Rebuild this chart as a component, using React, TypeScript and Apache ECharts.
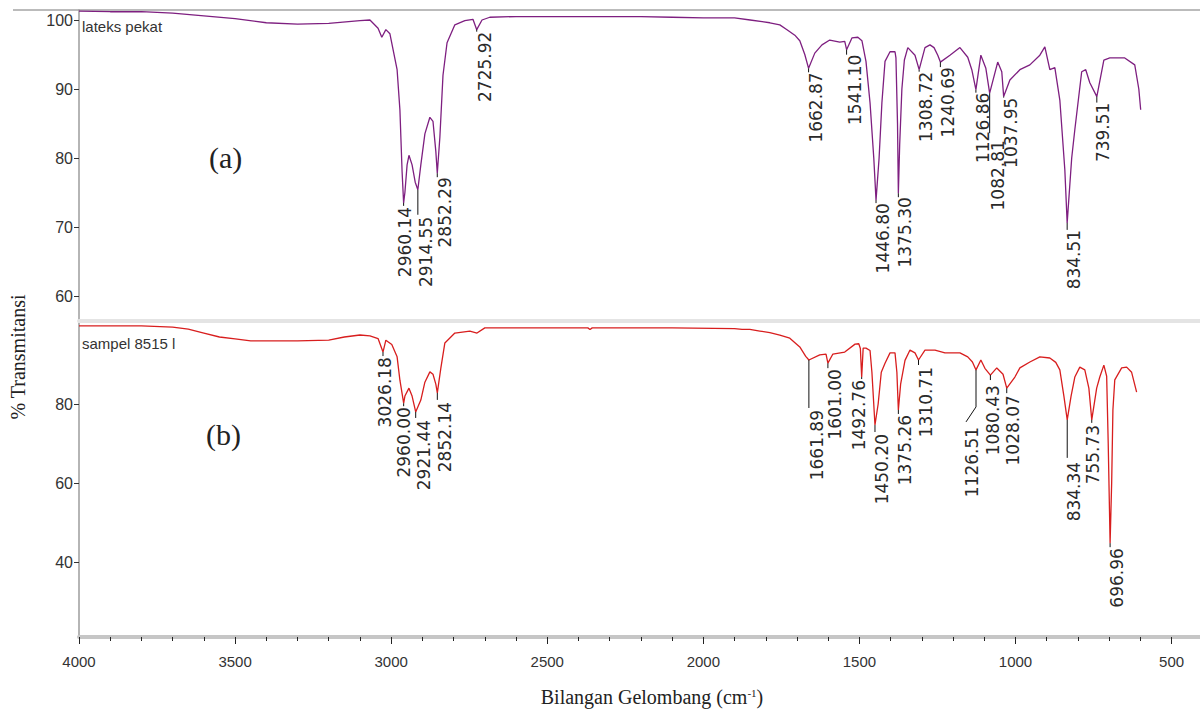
import React, { useEffect, useRef } from "react";
import * as echarts from "echarts";

// ---- Spectrum (a): lateks pekat ----
const latexWavenumber = [
  4000, 3900, 3800, 3700, 3600, 3500, 3400, 3300, 3200, 3100, 3068, 3042, 3030, 3017, 3004,
  2981, 2972, 2965, 2960.14, 2956, 2949, 2943, 2933, 2923, 2914.55, 2905, 2892, 2876, 2866,
  2857, 2852.29, 2844, 2834, 2821, 2796, 2764, 2738, 2725.92, 2709, 2684, 2600, 2400, 2200,
  2100, 2000, 1900, 1850, 1787, 1755, 1732, 1707, 1691, 1675, 1662.87, 1643, 1620, 1595, 1563,
  1547, 1541.1, 1524, 1505, 1492, 1479, 1466, 1454, 1446.8, 1437, 1428, 1418, 1402, 1386, 1383,
  1378, 1375.3, 1371, 1364, 1356, 1345, 1322, 1308.72, 1290, 1274, 1261, 1249, 1240.69, 1210,
  1178, 1153, 1140, 1126.86, 1111, 1095, 1082.81, 1057, 1044, 1037.95, 1018, 986, 954, 922, 906,
  890, 874, 858, 842, 834.51, 820, 810, 788, 775, 762, 739.51, 717, 698, 650, 618, 605, 599,
];
const latexTransmittance = [
  101.3, 101.2, 101.2, 101.0, 100.6, 100.2, 99.6, 99.4, 99.5, 99.9, 100.0, 98.8, 97.5, 98.6, 98.0,
  92.8, 87.0, 78.0, 73.5, 75.0, 79.0, 80.4, 79.0, 76.5, 75.4, 79.0, 83.5, 85.9, 85.3,
  81.0, 77.8, 83.0, 92.0, 96.7, 99.3, 99.9, 100.1, 98.6, 100.0, 100.4, 100.5, 100.5, 100.5,
  100.4, 100.3, 100.3, 100.0, 99.6, 99.3, 98.6, 97.8, 97.0, 95.0, 93.0, 95.2, 96.4, 97.1, 96.8,
  96.9, 95.7, 97.4, 97.5, 97.0, 94.0, 88.0, 80.0, 73.9, 80.0, 88.0, 94.0, 95.4, 95.4, 94.5,
  85.0, 74.9, 82.0, 90.0, 94.2, 96.0, 94.9, 92.8, 96.0, 96.4, 96.0, 94.9, 93.9, 94.9,
  96.0, 94.6, 92.8, 89.9, 94.9, 93.0, 89.4, 93.9, 92.5, 88.9, 91.3, 92.8, 93.5, 94.9, 96.1,
  92.8, 93.1, 88.4, 78.3, 70.6, 80.0, 84.1, 92.5, 92.8, 90.9, 88.9, 94.2, 94.5, 94.5, 93.5, 90.0, 87.0,
];

// ---- Spectrum (b): sampel 8515 l ----
const sampleWavenumber = [
  4000, 3800, 3700, 3650, 3600, 3550, 3500, 3450, 3300, 3200, 3150, 3100, 3068, 3042, 3026.18,
  3017, 2998, 2981, 2972, 2960.0, 2956, 2943, 2933, 2921.44, 2905, 2892, 2876, 2866, 2857,
  2852.14, 2841, 2828, 2796, 2748, 2725, 2700, 2500, 2370, 2363, 2356, 2100, 1900, 1876, 1851,
  1819, 1787, 1755, 1723, 1691, 1672, 1661.89, 1627, 1607, 1601.0, 1585, 1547, 1514, 1502, 1497,
  1492.76, 1488, 1479, 1466, 1460, 1450.2, 1440, 1430, 1418, 1402, 1386, 1380, 1375.26, 1368,
  1354, 1338, 1322, 1310.71, 1290, 1258, 1226, 1178, 1153, 1138, 1126.51, 1111, 1098, 1080.43,
  1060, 1040, 1028.07, 1002, 986, 954, 922, 890, 871, 858, 845, 834.34, 822, 810, 794, 778, 765,
  755.73, 740, 730, 717, 708, 703, 696.96, 692, 688, 682, 660, 644, 628, 612,
];
const sampleTransmittance = [
  99.7, 99.7, 99.4, 98.9, 97.9, 96.9, 96.4, 95.9, 95.9, 96.1, 96.9, 97.4, 97.2, 96.5, 93.1,
  96.1, 95.0, 91.9, 86.0, 80.2, 82.0, 84.0, 82.0, 78.0, 81.0, 85.5, 88.1, 87.5, 85.0,
  82.8, 89.0, 95.4, 97.9, 98.4, 97.9, 99.2, 99.2, 99.2, 98.8, 99.2, 99.2, 99.0, 98.8, 98.8,
  98.4, 98.0, 97.4, 96.6, 94.4, 92.0, 91.1, 92.4, 92.6, 90.3, 92.6, 93.1, 95.1, 95.2, 94.0,
  86.8, 94.1, 94.1, 93.5, 88.0, 74.7, 80.0, 88.0, 90.3, 92.9, 92.9, 88.0, 78.5, 85.0,
  91.0, 93.6, 92.9, 91.1, 93.6, 93.6, 92.9, 92.9, 91.9, 90.6, 88.6, 91.1, 89.0, 87.3,
  89.1, 87.5, 84.0, 86.8, 89.1, 90.6, 91.9, 91.6, 90.5, 88.6, 82.0, 76.0, 82.0, 86.8, 89.3, 88.6, 84.0,
  76.0, 84.0, 86.8, 89.8, 87.0, 70.0, 44.9, 60.0, 78.5, 86.1, 89.1, 89.3, 88.0, 83.0,
];

// ---- Peak annotations ----
const latexPeakWavenumber = [2960.14, 2914.55, 2852.29, 2725.92, 1662.87, 1541.1, 1446.8, 1375.3, 1308.72, 1240.69, 1126.86, 1082.81, 1037.95, 834.51, 739.51];
const latexPeakTransmittance = [73.5, 75.4, 77.8, 98.6, 93.0, 95.7, 73.9, 74.9, 92.8, 93.9, 89.9, 89.4, 88.9, 70.6, 88.9];
const samplePeakWavenumber = [3026.18, 2960.0, 2921.44, 2852.14, 1661.89, 1601.0, 1492.76, 1450.2, 1375.26, 1310.71, 1126.51, 1080.43, 1028.07, 834.34, 755.73, 696.96];
const samplePeakTransmittance = [93.1, 80.2, 78.0, 82.8, 91.1, 90.3, 86.8, 74.7, 78.5, 91.1, 88.6, 87.3, 84.0, 76.0, 76.0, 44.9];

// label layout (pixels): [leader length, label top offset, label dx, leader bend dx, leader bend dy]
const latexPeakLayout = [
  [3, 4, 1], [25, 27, 8], [4, 4, 8], [2, 2, 8], [4, 4, 7], [5, 5, 8], [3, 3, 7], [4, 4, 7],
  [2, 2, 7], [5, 5, 8], [3, 3, 7], [40, 47, 8], [1, 1, 7], [7, 7, 7], [6, 6, 6],
];
const samplePeakLayout = [
  [4, 5, 2], [3, 4, 0], [6, 8, 8], [7, 9, 8], [48, 50, 8], [5, 6, 7], [2, 3, -3], [7, 9, 7],
  [4, 5, 7], [5, 7, 7], [37, 57, -4, -10, 52], [5, 10, 3], [5, 7, 6], [38, 42, 7], [3, 5, 1], [4, 5, 7],
];

// ---- Axis ticks ----
const xMajorTicks = [4000, 3500, 3000, 2500, 2000, 1500, 1000, 500];
const xMinorTicks = [
  3900, 3800, 3700, 3600, 3400, 3300, 3200, 3100, 2900, 2800, 2700, 2600, 2400, 2300, 2200, 2100,
  1900, 1800, 1700, 1600, 1400, 1300, 1200, 1100, 900, 800, 700, 600,
];
const topMajorTicks = [60, 70, 80, 90, 100];
const topMinorTicks = [57.5, 62.5, 65, 67.5, 72.5, 75, 77.5, 82.5, 85, 87.5, 92.5, 95, 97.5];
const bottomMajorTicks = [40, 60, 80];
const bottomMinorTicks = [25, 30, 35, 45, 50, 55, 65, 70, 75, 85, 90, 95, 100];

const NARROW = '"Liberation Sans Narrow", "Arial Narrow", "Liberation Sans", sans-serif';
const SERIF = '"Liberation Serif", "Times New Roman", serif';
const PEAKFONT = '17px "DejaVu Sans", sans-serif';

function peakSeries(wn: number[], t: number[], layout: number[][], xi: number, yi: number) {
  return {
    type: "custom",
    xAxisIndex: xi,
    yAxisIndex: yi,
    silent: true,
    clip: false,
    z: 5,
    data: wn.map((w, i) => [w, t[i], i]),
    renderItem: (params: any, api: any) => {
      const i = api.value(2);
      const p = api.coord([api.value(0), api.value(1)]);
      const lay = layout[i];
      const pts: number[][] = [[p[0], p[1]], [p[0], p[1] + lay[0]]];
      if (lay.length > 3) pts.push([p[0] + lay[3], p[1] + lay[4]]);
      return {
        type: "group",
        children: [
          {
            type: "polyline",
            shape: { points: pts },
            style: { stroke: "#111", lineWidth: 1, fill: null },
          },
          {
            type: "text",
            x: p[0] + lay[2],
            y: p[1] + lay[1],
            rotation: Math.PI / 2,
            style: {
              text: wn[i].toFixed(2),
              align: "right",
              verticalAlign: "middle",
              font: PEAKFONT,
              fill: "#2a2a2a",
            },
          },
        ],
      };
    },
  };
}

export default function App() {
  const ref = useRef<HTMLDivElement>(null);
  useEffect(() => {
    if (!ref.current) return;
    const chart = echarts.init(ref.current, null, { renderer: "svg" });
    const xBase = { type: "value", min: 409, max: 4000, inverse: true, splitLine: { show: false } };
    const plain = (v: number) => String(v);
    const option: any = {
      animation: false,
      backgroundColor: "#ffffff",
      grid: [
        { left: 79, right: 0, top: 10, height: 311 },
        { left: 79, right: 0, top: 323, height: 314 },
      ],
      xAxis: [
        {
          ...xBase,
          gridIndex: 0,
          position: "bottom",
          axisLine: { show: true, onZero: false, lineStyle: { color: "#e4e4e4", width: 4 } },
          axisTick: { show: false },
          axisLabel: { show: false },
        },
        {
          ...xBase,
          gridIndex: 1,
          position: "bottom",
          axisLine: { show: true, onZero: false, lineStyle: { color: "#c6c6c6", width: 4 } },
          axisTick: { show: true, customValues: xMajorTicks, length: 7, lineStyle: { color: "#222", width: 1 } },
          axisLabel: { show: true, customValues: xMajorTicks, formatter: plain, margin: 17, color: "#333", fontFamily: NARROW, fontSize: 15 },
        },
        {
          ...xBase,
          gridIndex: 1,
          position: "bottom",
          axisLine: { show: false, onZero: false },
          axisTick: { show: true, customValues: xMinorTicks, length: 4, lineStyle: { color: "#222", width: 1 } },
          axisLabel: { show: false },
        },
      ],
      yAxis: [
        {
          type: "value",
          gridIndex: 0,
          min: 56.38,
          max: 101.45,
          splitLine: { show: false },
          axisLine: { show: true, onZero: false, lineStyle: { color: "#9c9c9c", width: 1.5 } },
          axisTick: { show: true, customValues: topMajorTicks, length: 5, lineStyle: { color: "#333" } },
          axisLabel: { show: true, customValues: topMajorTicks, formatter: plain, margin: 6, color: "#333", fontFamily: NARROW, fontSize: 16 },
        },
        {
          type: "value",
          gridIndex: 0,
          min: 56.38,
          max: 101.45,
          splitLine: { show: false },
          axisLine: { show: false, onZero: false },
          axisTick: { show: true, customValues: topMinorTicks, length: 2, lineStyle: { color: "#333" } },
          axisLabel: { show: false },
        },
        {
          type: "value",
          gridIndex: 1,
          min: 21.24,
          max: 100.43,
          splitLine: { show: false },
          axisLine: { show: true, onZero: false, lineStyle: { color: "#9c9c9c", width: 1.5 } },
          axisTick: { show: true, customValues: bottomMajorTicks, length: 5, lineStyle: { color: "#333" } },
          axisLabel: { show: true, customValues: bottomMajorTicks, formatter: plain, margin: 6, color: "#333", fontFamily: NARROW, fontSize: 16 },
        },
        {
          type: "value",
          gridIndex: 1,
          min: 21.24,
          max: 100.43,
          splitLine: { show: false },
          axisLine: { show: false, onZero: false },
          axisTick: { show: true, customValues: bottomMinorTicks, length: 2, lineStyle: { color: "#333" } },
          axisLabel: { show: false },
        },
      ],
      series: [
        {
          type: "line",
          xAxisIndex: 0,
          yAxisIndex: 0,
          showSymbol: false,
          silent: true,
          clip: false,
          lineStyle: { color: "#7e1f80", width: 1.3 },
          data: latexWavenumber.map((w, i) => [w, latexTransmittance[i]]),
        },
        {
          type: "line",
          xAxisIndex: 1,
          yAxisIndex: 2,
          showSymbol: false,
          silent: true,
          clip: false,
          lineStyle: { color: "#d81e1e", width: 1.3 },
          data: sampleWavenumber.map((w, i) => [w, sampleTransmittance[i]]),
        },
        peakSeries(latexPeakWavenumber, latexPeakTransmittance, latexPeakLayout, 0, 0),
        peakSeries(samplePeakWavenumber, samplePeakTransmittance, samplePeakLayout, 1, 2),
      ],
      graphic: [
        { type: "line", shape: { x1: 13, y1: 10, x2: 1200, y2: 10 }, style: { stroke: "#a5a5a5", lineWidth: 1.5 } },
        { type: "text", x: 82, y: 19, style: { text: "lateks pekat", font: `15px ${NARROW}`, fill: "#333" } },
        { type: "text", x: 82, y: 336, style: { text: "sampel 8515 l", font: `15px ${NARROW}`, fill: "#333" } },
        { type: "text", x: 209, y: 142, style: { text: "(a)", font: `30px ${SERIF}`, fill: "#222" } },
        { type: "text", x: 206, y: 419, style: { text: "(b)", font: `30px ${SERIF}`, fill: "#222" } },
        {
          type: "text",
          x: 18,
          y: 357,
          rotation: Math.PI / 2,
          style: { text: "% Transmitansi", align: "center", verticalAlign: "middle", font: `20px ${SERIF}`, fill: "#222" },
        },
        {
          type: "text",
          x: 652,
          y: 697,
          style: {
            text: "Bilangan Gelombang (cm{sup|-1})",
            align: "center",
            verticalAlign: "middle",
            font: `20px ${SERIF}`,
            fill: "#222",
            rich: { sup: { fontSize: 11, fontFamily: SERIF, verticalAlign: "top", lineHeight: 20, fill: "#222" } },
          },
        },
      ],
    };
    chart.setOption(option);
    return () => chart.dispose();
  }, []);
  return (
    <div
      ref={ref}
      style={{ position: "fixed", left: 0, top: 0, width: 1200, height: 713, background: "#fff" }}
    />
  );
}
